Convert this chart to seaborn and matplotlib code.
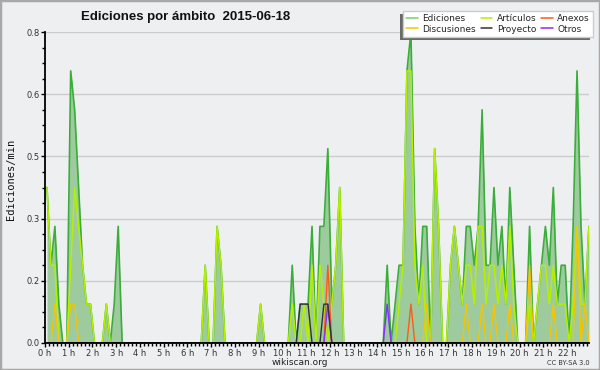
import numpy as np
import pandas as pd
import matplotlib
matplotlib.use("Agg")
import matplotlib.pyplot as plt
import seaborn as sns
from matplotlib.ticker import FixedLocator, MultipleLocator, FuncFormatter
from matplotlib.lines import Line2D
from matplotlib.patches import Rectangle

# ---- data: edits per minute, 10-minute bins (6 per hour), 00:00 .. 22:50 ----
ediciones = [
    0.4, 0.2, 0.3, 0.1, 0, 0,        # 0 h
    0.7, 0.6, 0.4, 0.2, 0.1, 0.1,    # 1 h
    0, 0, 0, 0.1, 0, 0.1,            # 2 h
    0.3, 0, 0, 0, 0, 0,              # 3 h
    0, 0, 0, 0, 0, 0,                # 4 h
    0, 0, 0, 0, 0, 0,                # 5 h
    0, 0, 0, 0, 0.2, 0,              # 6 h
    0, 0.3, 0.2, 0, 0, 0,            # 7 h
    0, 0, 0, 0, 0, 0,                # 8 h
    0.1, 0, 0, 0, 0, 0,              # 9 h
    0, 0, 0.2, 0, 0.1, 0.1,          # 10 h
    0.1, 0.3, 0, 0.3, 0.3, 0.5,      # 11 h
    0.1, 0.2, 0.4, 0, 0, 0,          # 12 h
    0, 0, 0, 0, 0, 0,                # 13 h
    0, 0, 0.2, 0, 0.1, 0.2,          # 14 h
    0.2, 0.7, 0.8, 0.3, 0.1, 0.3,    # 15 h
    0.3, 0, 0.5, 0.3, 0, 0,          # 16 h
    0.2, 0.3, 0.2, 0.1, 0.3, 0.3,    # 17 h
    0.2, 0.3, 0.6, 0.2, 0.2, 0.4,    # 18 h
    0.2, 0.3, 0.1, 0.4, 0.2, 0,      # 19 h
    0, 0, 0.3, 0, 0.1, 0.2,          # 20 h
    0.3, 0.2, 0.4, 0.1, 0.2, 0.2,    # 21 h
    0, 0.3, 0.7, 0.3, 0.1, 0.3,      # 22 h
]
articulos = [
    0.4, 0.2, 0.2, 0, 0, 0,
    0.2, 0.4, 0.3, 0.2, 0.1, 0.1,
    0, 0, 0, 0.1, 0, 0,
    0, 0, 0, 0, 0, 0,
    0, 0, 0, 0, 0, 0,
    0, 0, 0, 0, 0, 0,
    0, 0, 0, 0, 0.2, 0,
    0, 0.3, 0.2, 0, 0, 0,
    0, 0, 0, 0, 0, 0,
    0.1, 0, 0, 0, 0, 0,
    0, 0, 0.1, 0, 0, 0.1,
    0, 0.2, 0, 0.2, 0.1, 0,
    0.1, 0.2, 0.4, 0, 0, 0,
    0, 0, 0, 0, 0, 0,
    0, 0, 0, 0, 0, 0.1,
    0.2, 0.7, 0.7, 0.2, 0.1, 0.2,
    0, 0, 0.5, 0.3, 0, 0,
    0.2, 0.3, 0.2, 0.1, 0.2, 0.2,
    0.1, 0.3, 0.3, 0.1, 0.2, 0.2,
    0.1, 0.2, 0.1, 0.3, 0.1, 0,
    0, 0, 0.1, 0, 0.1, 0.2,
    0.2, 0.1, 0.2, 0.1, 0.1, 0.1,
    0, 0.1, 0.3, 0.1, 0.1, 0.3,
]
discusiones = [
    0, 0, 0.1, 0, 0, 0,
    0.1, 0.1, 0, 0, 0, 0,
    0, 0, 0, 0, 0, 0,
    0, 0, 0, 0, 0, 0,
    0, 0, 0, 0, 0, 0,
    0, 0, 0, 0, 0, 0,
    0, 0, 0, 0, 0, 0,
    0, 0, 0, 0, 0, 0,
    0, 0, 0, 0, 0, 0,
    0, 0, 0, 0, 0, 0,
    0, 0, 0, 0, 0, 0,
    0, 0, 0, 0, 0, 0,
    0, 0, 0, 0, 0, 0,
    0, 0, 0, 0, 0, 0,
    0, 0, 0, 0, 0, 0,
    0, 0, 0, 0, 0, 0,
    0.1, 0, 0, 0, 0, 0,
    0, 0, 0, 0, 0.1, 0,
    0, 0, 0.1, 0, 0, 0.1,
    0, 0, 0, 0.1, 0, 0,
    0, 0, 0.2, 0, 0, 0,
    0, 0, 0.1, 0, 0, 0,
    0, 0, 0.3, 0, 0.1, 0,
]
# sparse series: bin index -> edits/min
anexos_vals = {71: 0.2, 92: 0.1}
proyecto_vals = {64: 0.1, 65: 0.1, 66: 0.1, 70: 0.1, 71: 0.1}
otros_vals = {71: 0.1, 86: 0.1}
anexos = [anexos_vals.get(i, 0.0) for i in range(len(ediciones))]
proyecto = [proyecto_vals.get(i, 0.0) for i in range(len(ediciones))]
otros = [otros_vals.get(i, 0.0) for i in range(len(ediciones))]

hour_labels = [f"{h} h" for h in range(23)]
y_major = [0.0, 0.16, 0.32, 0.48, 0.64, 0.8]

title = "Ediciones por ámbito  2015-06-18"

# ---- figure ----
sns.set_theme(style="white")
plt.rcParams["font.family"] = ["DejaVu Sans"]
BG = "#EDEFF1"

fig = plt.figure(figsize=(6, 3.7), dpi=100, facecolor=BG)
ax = fig.add_axes([45 / 600, 27 / 370, 544 / 600, 311 / 370])
ax.set_facecolor(BG)

n = len(ediciones)
t = (np.arange(n) + 0.5) / 6.0
df = pd.DataFrame({"t": t, "Ediciones": ediciones, "Artículos": articulos,
                   "Discusiones": discusiones, "Anexos": anexos,
                   "Proyecto": proyecto, "Otros": otros})

colors = {"Ediciones": "#3aad3a", "Artículos": "#b4f000", "Discusiones": "#f7c400",
          "Anexos": "#ff5a1a", "Proyecto": "#333333", "Otros": "#8a2cff"}
widths = {"Ediciones": 1.2, "Artículos": 1.1, "Discusiones": 1.0,
          "Anexos": 1.0, "Proyecto": 1.0, "Otros": 1.0}

ax.fill_between(df["t"], df["Ediciones"], color="#9ecb9e", lw=0, zorder=1)
for name in ["Ediciones", "Artículos", "Discusiones", "Anexos", "Otros", "Proyecto"]:
    sns.lineplot(data=df, x="t", y=name, ax=ax, color=colors[name],
                 lw=widths[name], legend=False, zorder=2)

ax.set_xlim(0, 22.92)
ax.set_ylim(0, 0.8)
ax.set_xlabel("")
ax.set_ylabel("")

ax.xaxis.set_major_locator(FixedLocator(list(range(23))))
ax.set_xticklabels(hour_labels)
ax.xaxis.set_minor_locator(MultipleLocator(1 / 6))
ax.yaxis.set_major_locator(FixedLocator(y_major))
ax.yaxis.set_major_formatter(FuncFormatter(lambda v, p: f"{v:.1f}"))
ax.yaxis.set_minor_locator(MultipleLocator(0.04))

ax.tick_params(axis="both", which="major", direction="out", length=3, width=1,
               color="black", labelsize=6, labelcolor="#333333", pad=1)
ax.tick_params(axis="both", which="minor", direction="out", length=2.5, width=1,
               color="black")
ax.tick_params(axis="x", which="both", bottom=True)
ax.tick_params(axis="y", which="both", left=True)

for s in ["top", "right"]:
    ax.spines[s].set_visible(False)
for s in ["left", "bottom"]:
    ax.spines[s].set_color("black")
    ax.spines[s].set_linewidth(1.3)
    ax.spines[s].set_zorder(4)

ax.yaxis.grid(True, color="#cccccc", lw=1)
ax.xaxis.grid(False)
ax.set_axisbelow(True)

fig.text(0.31, 0.953, title, ha="center", va="center", fontsize=9.5,
         weight="bold", family="Liberation Sans", color="#111111")
fig.text(0.018, 0.515, "Ediciones/min", rotation=90, ha="center", va="center",
         fontsize=7.5, family="DejaVu Sans Mono", color="#111111")
fig.text(0.5, 0.019, "wikiscan.org", ha="center", va="center", fontsize=6.5,
         color="#222222")
fig.text(0.983, 0.019, "CC BY-SA 3.0", ha="right", va="center", fontsize=4.8,
         color="#333333")

labels = ["Ediciones", "Discusiones", "Artículos", "Proyecto", "Anexos", "Otros"]
handles = [Line2D([], [], color=colors[k], lw=1.1) for k in labels]
handles[0].set_color("#77d077")
leg = fig.legend(handles, labels, loc="upper right",
                 bbox_to_anchor=(593 / 600, 1 - 11 / 370), ncol=3, fontsize=6.5,
                 frameon=True, fancybox=False, framealpha=1, facecolor="white",
                 edgecolor="#cccccc", handlelength=1.3, handletextpad=0.5,
                 columnspacing=0.5, labelspacing=0.15, borderpad=0.35,
                 borderaxespad=0)
leg.set_zorder(6)

fig.canvas.draw()
bb = leg.get_window_extent()
shadow = Rectangle((bb.x0 - 3, bb.y0 - 3), bb.width, bb.height, transform=None,
                   facecolor="#6a6a6a", edgecolor="none", zorder=5)
fig.add_artist(shadow)

fig.add_artist(Rectangle((0, 0), 1, 1, transform=fig.transFigure, fill=False,
                         edgecolor="#a8a8a8", lw=2.5, zorder=10))

fig.savefig("out.png", dpi=100, facecolor=BG)
